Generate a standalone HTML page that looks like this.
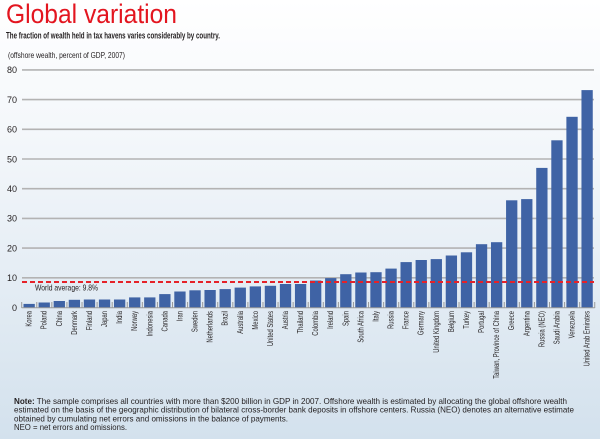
<!DOCTYPE html>
<html><head><meta charset="utf-8"><style>
html,body{margin:0;padding:0;width:600px;height:439px;overflow:hidden}
svg{display:block}
text{font-family:"Liberation Sans",sans-serif;fill:#231f20}
</style></head><body>
<svg width="600" height="439" viewBox="0 0 600 439" xmlns="http://www.w3.org/2000/svg">
<defs><linearGradient id="bg" x1="0" y1="0" x2="0" y2="1"><stop offset="0" stop-color="#ffffff"/><stop offset="0.35" stop-color="#f2f6fa"/><stop offset="1" stop-color="#d3e1ed"/></linearGradient></defs>
<rect x="0" y="0" width="600" height="439" fill="url(#bg)"/>
<text x="6" y="23" font-size="27" style="fill:#e3151f" textLength="171" lengthAdjust="spacingAndGlyphs">Global variation</text>
<text x="6" y="38.5" font-size="9" font-weight="bold" textLength="214" lengthAdjust="spacingAndGlyphs">The fraction of wealth held in tax havens varies considerably by country.</text>
<text x="8" y="58" font-size="8.5" textLength="117" lengthAdjust="spacingAndGlyphs">(offshore wealth, percent of GDP, 2007)</text>
<g stroke="#b3b3b3" stroke-width="1.6">
<line x1="22" y1="69.9" x2="594" y2="69.9"/><line x1="22" y1="99.6" x2="594" y2="99.6"/><line x1="22" y1="129.3" x2="594" y2="129.3"/><line x1="22" y1="159" x2="594" y2="159"/><line x1="22" y1="188.7" x2="594" y2="188.7"/><line x1="22" y1="218.4" x2="594" y2="218.4"/><line x1="22" y1="248.1" x2="594" y2="248.1"/><line x1="22" y1="277.8" x2="594" y2="277.8"/>
</g>
<g font-size="9" text-anchor="end">
<text x="17" y="73.2">80</text><text x="17" y="102.9">70</text><text x="17" y="132.6">60</text><text x="17" y="162.3">50</text><text x="17" y="192">40</text><text x="17" y="221.7">30</text><text x="17" y="251.4">20</text><text x="17" y="281.1">10</text><text x="17" y="310.8">0</text>
</g>
<g fill="#3f63a5">
<rect x="23.5" y="303.9" width="11.3" height="3.6"/>
<rect x="38.58" y="302.5" width="11.3" height="5.0"/>
<rect x="53.66" y="301" width="11.3" height="6.5"/>
<rect x="68.74" y="299.8" width="11.3" height="7.7"/>
<rect x="83.82" y="299.5" width="11.3" height="8.0"/>
<rect x="98.9" y="299.5" width="11.3" height="8.0"/>
<rect x="113.98" y="299.5" width="11.3" height="8.0"/>
<rect x="129.06" y="297.4" width="11.3" height="10.1"/>
<rect x="144.14" y="297.4" width="11.3" height="10.1"/>
<rect x="159.22" y="294.1" width="11.3" height="13.4"/>
<rect x="174.3" y="291.5" width="11.3" height="16.0"/>
<rect x="189.38" y="290.3" width="11.3" height="17.2"/>
<rect x="204.46" y="290" width="11.3" height="17.5"/>
<rect x="219.54" y="289.1" width="11.3" height="18.4"/>
<rect x="234.62" y="287.6" width="11.3" height="19.9"/>
<rect x="249.7" y="286.4" width="11.3" height="21.1"/>
<rect x="264.78" y="285.8" width="11.3" height="21.7"/>
<rect x="279.86" y="284" width="11.3" height="23.5"/>
<rect x="294.94" y="284" width="11.3" height="23.5"/>
<rect x="310.02" y="280.5" width="11.3" height="27.0"/>
<rect x="325.1" y="278.1" width="11.3" height="29.4"/>
<rect x="340.18" y="274.2" width="11.3" height="33.3"/>
<rect x="355.26" y="272.5" width="11.3" height="35.0"/>
<rect x="370.34" y="272.2" width="11.3" height="35.3"/>
<rect x="385.42" y="268.6" width="11.3" height="38.9"/>
<rect x="400.5" y="262.1" width="11.3" height="45.4"/>
<rect x="415.58" y="260" width="11.3" height="47.5"/>
<rect x="430.66" y="259.1" width="11.3" height="48.4"/>
<rect x="445.74" y="255.5" width="11.3" height="52.0"/>
<rect x="460.82" y="252.3" width="11.3" height="55.2"/>
<rect x="475.9" y="244.2" width="11.3" height="63.3"/>
<rect x="490.98" y="242.2" width="11.3" height="65.3"/>
<rect x="506.06" y="200.3" width="11.3" height="107.2"/>
<rect x="521.14" y="199.1" width="11.3" height="108.4"/>
<rect x="536.22" y="167.9" width="11.3" height="139.6"/>
<rect x="551.3" y="140.3" width="11.3" height="167.2"/>
<rect x="566.38" y="116.8" width="11.3" height="190.7"/>
<rect x="581.46" y="90.1" width="11.3" height="217.4"/>
</g>
<g stroke="#9a9a9a" stroke-width="1">
<line x1="21.7" y1="307.8" x2="594.8" y2="307.8"/>
<path d="M21.7 302v6M36.78 302v6M51.86 302v6M66.94 302v6M82.02 302v6M97.1 302v6M112.18 302v6M127.26 302v6M142.34 302v6M157.42 302v6M172.5 302v6M187.58 302v6M202.66 302v6M217.74 302v6M232.82 302v6M247.9 302v6M262.98 302v6M278.06 302v6M293.14 302v6M308.22 302v6M323.3 302v6M338.38 302v6M353.46 302v6M368.54 302v6M383.62 302v6M398.7 302v6M413.78 302v6M428.86 302v6M443.94 302v6M459.02 302v6M474.1 302v6M489.18 302v6M504.26 302v6M519.34 302v6M534.42 302v6M549.5 302v6M564.58 302v6M579.66 302v6M594.74 302v6"/>
</g>
<line x1="22" y1="282" x2="594" y2="282" stroke="#e52229" stroke-width="2" stroke-dasharray="5,3"/>
<text x="35" y="290.5" font-size="8.5" textLength="63" lengthAdjust="spacingAndGlyphs">World average: 9.8%</text>
<g font-size="8.5" text-anchor="end">
<text transform="translate(31.6,311) rotate(-90) scale(0.69,1)">Korea</text>
<text transform="translate(46.7,311) rotate(-90) scale(0.69,1)">Poland</text>
<text transform="translate(61.8,311) rotate(-90) scale(0.69,1)">China</text>
<text transform="translate(76.9,311) rotate(-90) scale(0.69,1)">Denmark</text>
<text transform="translate(91.9,311) rotate(-90) scale(0.69,1)">Finland</text>
<text transform="translate(107,311) rotate(-90) scale(0.69,1)">Japan</text>
<text transform="translate(122.1,311) rotate(-90) scale(0.69,1)">India</text>
<text transform="translate(137.2,311) rotate(-90) scale(0.69,1)">Norway</text>
<text transform="translate(152.3,311) rotate(-90) scale(0.69,1)">Indonesia</text>
<text transform="translate(167.4,311) rotate(-90) scale(0.69,1)">Canada</text>
<text transform="translate(182.4,311) rotate(-90) scale(0.69,1)">Iran</text>
<text transform="translate(197.5,311) rotate(-90) scale(0.69,1)">Sweden</text>
<text transform="translate(212.6,311) rotate(-90) scale(0.69,1)">Netherlands</text>
<text transform="translate(227.7,311) rotate(-90) scale(0.69,1)">Brazil</text>
<text transform="translate(242.8,311) rotate(-90) scale(0.69,1)">Australia</text>
<text transform="translate(257.8,311) rotate(-90) scale(0.69,1)">Mexico</text>
<text transform="translate(272.9,311) rotate(-90) scale(0.69,1)">United States</text>
<text transform="translate(288,311) rotate(-90) scale(0.69,1)">Austria</text>
<text transform="translate(303.1,311) rotate(-90) scale(0.69,1)">Thailand</text>
<text transform="translate(318.2,311) rotate(-90) scale(0.69,1)">Colombia</text>
<text transform="translate(333.2,311) rotate(-90) scale(0.69,1)">Ireland</text>
<text transform="translate(348.3,311) rotate(-90) scale(0.69,1)">Spain</text>
<text transform="translate(363.4,311) rotate(-90) scale(0.69,1)">South Africa</text>
<text transform="translate(378.5,311) rotate(-90) scale(0.69,1)">Italy</text>
<text transform="translate(393.6,311) rotate(-90) scale(0.69,1)">Russia</text>
<text transform="translate(408.6,311) rotate(-90) scale(0.69,1)">France</text>
<text transform="translate(423.7,311) rotate(-90) scale(0.69,1)">Germany</text>
<text transform="translate(438.8,311) rotate(-90) scale(0.69,1)">United Kingdom</text>
<text transform="translate(453.9,311) rotate(-90) scale(0.69,1)">Belgium</text>
<text transform="translate(469,311) rotate(-90) scale(0.69,1)">Turkey</text>
<text transform="translate(484,311) rotate(-90) scale(0.69,1)">Portugal</text>
<text transform="translate(499.1,311) rotate(-90) scale(0.69,1)">Taiwan, Province of China</text>
<text transform="translate(514.2,311) rotate(-90) scale(0.69,1)">Greece</text>
<text transform="translate(529.3,311) rotate(-90) scale(0.69,1)">Argentina</text>
<text transform="translate(544.4,311) rotate(-90) scale(0.69,1)">Russia (NEO)</text>
<text transform="translate(559.4,311) rotate(-90) scale(0.69,1)">Saudi Arabia</text>
<text transform="translate(574.5,311) rotate(-90) scale(0.69,1)">Venezuela</text>
<text transform="translate(589.6,311) rotate(-90) scale(0.69,1)">United Arab Emirates</text>
</g>
<g font-size="8.5">
<text x="14" y="404" textLength="553" lengthAdjust="spacingAndGlyphs"><tspan font-weight="bold">Note:</tspan> The sample comprises all countries with more than $200 billion in GDP in 2007. Offshore wealth is estimated by allocating the global offshore wealth</text>
<text x="14" y="412.7" textLength="560" lengthAdjust="spacingAndGlyphs">estimated on the basis of the geographic distribution of bilateral cross-border bank deposits in offshore centers. Russia (NEO) denotes an alternative estimate</text>
<text x="14" y="421.3" textLength="274" lengthAdjust="spacingAndGlyphs">obtained by cumulating net errors and omissions in the balance of payments.</text>
<text x="14" y="430" textLength="113" lengthAdjust="spacingAndGlyphs">NEO = net errors and omissions.</text>
</g>
</svg>
</body></html>
